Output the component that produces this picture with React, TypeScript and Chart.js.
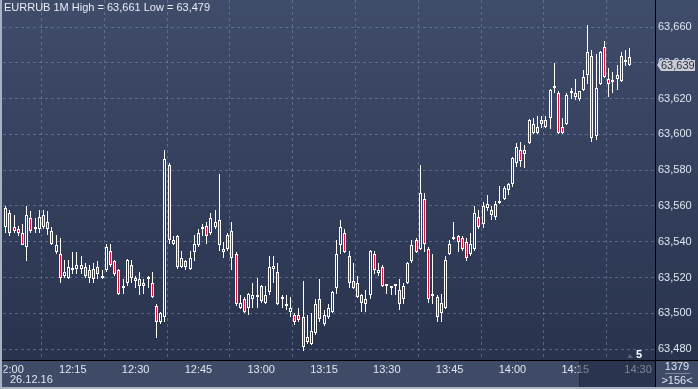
import React, { useEffect, useRef } from 'react';
import { Chart, registerables } from 'chart.js';

Chart.register(...registerables);

// ---- data (EURRUB, 1-minute candles, minutes after 12:00) ----
const startMinute = -2;
const opens = [
  63.545, 63.548, 63.556, 63.548, 63.547, 63.545, 63.537, 63.553, 63.548, 63.547,
  63.555, 63.551, 63.546, 63.534, 63.533, 63.521, 63.520, 63.524, 63.525, 63.525,
  63.526, 63.524, 63.519, 63.526, 63.520, 63.524, 63.535, 63.529, 63.524, 63.514,
  63.517, 63.527, 63.520, 63.519, 63.517, 63.519, 63.517, 63.504, 63.495, 63.498,
  63.583, 63.539, 63.543, 63.526, 63.529, 63.525, 63.534, 63.538, 63.547, 63.549,
  63.545, 63.548, 63.552, 63.534, 63.536, 63.546, 63.533, 63.503, 63.508, 63.503,
  63.508, 63.509, 63.515, 63.506, 63.512, 63.525, 63.523, 63.508, 63.505, 63.501,
  63.499, 63.499, 63.498, 63.484, 63.483, 63.489, 63.508, 63.494, 63.498, 63.501,
  63.514, 63.538, 63.545, 63.532, 63.518, 63.517, 63.510, 63.505, 63.510, 63.533,
  63.5225, 63.526, 63.5152, 63.5142, 63.5153, 63.513, 63.508, 63.517, 63.529, 63.541,
  63.536, 63.564, 63.536, 63.5098, 63.509, 63.500, 63.503, 63.533, 63.5418, 63.543,
  63.542, 63.540, 63.533, 63.536, 63.554, 63.550, 63.559, 63.558, 63.554, 63.5618,
  63.564, 63.569, 63.572, 63.584, 63.591, 63.589, 63.595, 63.601, 63.604, 63.608,
  63.604, 63.609, 63.626, 63.623, 63.604, 63.606, 63.624, 63.621, 63.620, 63.625,
  63.633, 63.644, 63.599, 63.628, 63.649, 63.631, 63.629, 63.633, 63.630, 63.6402,
  63.643,
];
const highs = [
  63.560, 63.560, 63.558, 63.555, 63.549, 63.550, 63.560, 63.557, 63.553, 63.558,
  63.558, 63.557, 63.548, 63.544, 63.542, 63.530, 63.530, 63.534, 63.534, 63.532,
  63.528, 63.527, 63.528, 63.529, 63.524, 63.539, 63.539, 63.530, 63.5245, 63.519,
  63.5305, 63.530, 63.521, 63.523, 63.519, 63.521, 63.523, 63.505, 63.501, 63.591,
  63.584, 63.543, 63.544, 63.535, 63.530, 63.535, 63.544, 63.547, 63.550, 63.551,
  63.556, 63.558, 63.578, 63.540, 63.545, 63.551, 63.534, 63.510, 63.509, 63.5115,
  63.517, 63.520, 63.516, 63.515, 63.532, 63.532, 63.528, 63.510, 63.510, 63.509,
  63.500, 63.503, 63.518, 63.499, 63.500, 63.508, 63.519, 63.502, 63.505, 63.5125,
  63.541, 63.552, 63.547, 63.535, 63.528, 63.521, 63.511, 63.513, 63.5355, 63.535,
  63.528, 63.527, 63.5158, 63.5155, 63.516, 63.519, 63.517, 63.5285, 63.541, 63.542,
  63.583, 63.567, 63.537, 63.533, 63.510, 63.511, 63.532, 63.541, 63.551, 63.544,
  63.543, 63.542, 63.545, 63.560, 63.558, 63.562, 63.566, 63.560, 63.5625, 63.571,
  63.571, 63.573, 63.5875, 63.595, 63.596, 63.594, 63.6085, 63.609, 63.610, 63.610,
  63.6103, 63.6255, 63.640, 63.624, 63.609, 63.623, 63.626, 63.631, 63.6245, 63.636,
  63.661, 63.647, 63.645, 63.6465, 63.652, 63.637, 63.635, 63.639, 63.646, 63.647,
  63.648,
];
const lows = [
  63.544, 63.545, 63.543, 63.545, 63.543, 63.538, 63.529, 63.545, 63.545, 63.545,
  63.547, 63.544, 63.538, 63.533, 63.517, 63.520, 63.519, 63.522, 63.522, 63.522,
  63.520, 63.517, 63.517, 63.519, 63.519, 63.523, 63.526, 63.521, 63.510, 63.511,
  63.515, 63.517, 63.514, 63.510, 63.511, 63.514, 63.5085, 63.486, 63.494, 63.495,
  63.539, 63.538, 63.525, 63.5255, 63.524, 63.524, 63.529, 63.537, 63.543, 63.539,
  63.544, 63.547, 63.535, 63.531, 63.535, 63.524, 63.504, 63.5025, 63.500, 63.499,
  63.503, 63.503, 63.506, 63.5055, 63.510, 63.517, 63.5045, 63.503, 63.502, 63.498,
  63.4935, 63.495, 63.479, 63.483, 63.4825, 63.488, 63.495, 63.493, 63.497, 63.5005,
  63.511, 63.533, 63.5338, 63.514, 63.5135, 63.5085, 63.501, 63.501, 63.508, 63.522,
  63.521, 63.5145, 63.511, 63.510, 63.5105, 63.502, 63.505, 63.5165, 63.528, 63.5335,
  63.5355, 63.534, 63.506, 63.505, 63.495, 63.495, 63.5025, 63.5325, 63.5412, 63.534,
  63.535, 63.529, 63.532, 63.535, 63.547, 63.5475, 63.557, 63.552, 63.552, 63.5612,
  63.5635, 63.566, 63.5705, 63.582, 63.582, 63.581, 63.5945, 63.600, 63.600, 63.6035,
  63.6035, 63.603, 63.623, 63.6005, 63.6003, 63.6055, 63.620, 63.619, 63.6188, 63.6245,
  63.628, 63.596, 63.597, 63.6275, 63.6315, 63.621, 63.623, 63.625, 63.6295, 63.638,
  63.6388,
];
const closes = [
  63.559, 63.559, 63.545, 63.546, 63.545, 63.538, 63.555, 63.546, 63.547, 63.554,
  63.548, 63.547, 63.539, 63.538, 63.520, 63.523, 63.526, 63.525, 63.527, 63.527,
  63.521, 63.520, 63.525, 63.522, 63.5205, 63.537, 63.527, 63.522, 63.511, 63.5145,
  63.530, 63.520, 63.518, 63.515, 63.5155, 63.5195, 63.5092, 63.495, 63.500, 63.586,
  63.541, 63.541, 63.526, 63.531, 63.526, 63.531, 63.539, 63.545, 63.548, 63.543,
  63.553, 63.551, 63.538, 63.536, 63.544, 63.531, 63.505, 63.506, 63.501, 63.511,
  63.510, 63.5093, 63.507, 63.510, 63.526, 63.5262, 63.505, 63.5083, 63.504, 63.503,
  63.495, 63.496, 63.481, 63.487, 63.490, 63.505, 63.497, 63.499, 63.503, 63.512,
  63.533, 63.548, 63.5343, 63.517, 63.514, 63.509, 63.506, 63.508, 63.535, 63.524,
  63.524, 63.515, 63.5156, 63.5146, 63.5157, 63.505, 63.515, 63.528, 63.538, 63.534,
  63.567, 63.539, 63.508, 63.5102, 63.498, 63.506, 63.530, 63.539, 63.5422, 63.540,
  63.536, 63.531, 63.539, 63.556, 63.548, 63.560, 63.561, 63.555, 63.561, 63.5622,
  63.570, 63.572, 63.587, 63.593, 63.585, 63.591, 63.608, 63.606, 63.601, 63.606,
  63.608, 63.625, 63.627, 63.601, 63.601, 63.622, 63.623, 63.623, 63.624, 63.632,
  63.646, 63.598, 63.626, 63.646, 63.632, 63.628, 63.630, 63.631, 63.644, 63.6406,
  63.639,
];

const xTickMinutes = [0, 15, 30, 45, 60, 75, 90, 105, 120, 135, 150];
const xTickLabels = ['12:00', '12:15', '12:30', '12:45', '13:00', '13:15', '13:30', '13:45', '14:00', '14:15', '14:30'];
const yTickValues = [63.48, 63.5, 63.52, 63.54, 63.56, 63.58, 63.6, 63.62, 63.64, 63.66];
const xRange = [-1.67, 154.05];
const yRange = [63.4739, 63.6751];

const titleText = 'EURRUB 1M High = 63,661 Low = 63,479';
const dateText = '26.12.16';
const markerText = '5';
const counterTop = '1379';
const counterBottom = '>156<';

const FONT = '"Liberation Sans Narrow", "Arial Narrow", "Liberation Sans", Arial, sans-serif';
const LABEL = '#dfe6f2';
const UP_FILL = 'rgba(0,0,0,0)';
const DOWN_FILL = '#dc143c';
const CANDLE_LINE = '#ffffff';

const fmtPrice = (v: number) => v.toFixed(3).replace('.', ',');

// snap bar elements to whole pixels so candles render crisp
const pixelSnap = {
  id: 'pixelSnap',
  beforeDatasetsDraw(chart: any) {
    chart.getSortedVisibleDatasetMetas().forEach((meta: any) => {
      const isBody = meta.index === 0;
      meta.data.forEach((el: any) => {
        const len = Math.abs(el.y - el.base);
        el.x = Math.floor(el.x) + 0.5;
        let top = Math.round(Math.min(el.y, el.base));
        let bottom = Math.round(Math.max(el.y, el.base));
        if (isBody && bottom - top < 2) bottom = top + 2;
        if (!isBody && len > 0.3 && bottom - top < 1) bottom = top + 1;
        el.y = top;
        el.base = bottom;
      });
    });
  },
};

const decorations = {
  id: 'decorations',
  beforeDraw(chart: any) {
    const { ctx, width, height } = chart;
    ctx.save();
    const g = ctx.createLinearGradient(0, 0, 0, 360);
    g.addColorStop(0, '#3f4c6a');
    g.addColorStop(1, '#29334e');
    ctx.fillStyle = g;
    ctx.fillRect(0, 0, width, height);
    ctx.fillStyle = '#3e4a66';
    ctx.fillRect(0, 361, width, height - 361);
    ctx.restore();
  },
  afterDraw(chart: any) {
    const { ctx, width, height, scales } = chart;
    const area = chart.chartArea;
    ctx.save();
    // scrolled-region overlay on time axis
    ctx.fillStyle = 'rgba(24,29,54,0.5)';
    ctx.fillRect(580, area.bottom + 1, area.right - 580, height - area.bottom - 1);
    ctx.fillStyle = 'rgba(20,24,40,0.6)';
    ctx.fillRect(579, area.bottom + 1, 1, height - area.bottom - 1);
    // separators
    ctx.fillStyle = '#000000';
    ctx.fillRect(Math.round(area.right), 0, 1, height);
    ctx.fillRect(0, Math.round(area.bottom), width, 1);
    // title
    ctx.font = `11px ${FONT}`;
    ctx.textBaseline = 'middle';
    ctx.textAlign = 'left';
    ctx.fillStyle = '#e8ecf4';
    ctx.fillText(titleText, 4, 8);
    // date under first time label
    ctx.fillStyle = LABEL;
    ctx.fillText(dateText, 10, 380);
    // last price tag
    const last = closes[closes.length - 1];
    const py = Math.round(scales.y.getPixelForValue(last));
    const x0 = Math.round(area.right) + 2;
    ctx.fillStyle = '#c9ccd3';
    ctx.beginPath();
    ctx.moveTo(x0, py);
    ctx.lineTo(x0 + 4, py - 5);
    ctx.lineTo(695, py - 5);
    ctx.lineTo(695, py + 6);
    ctx.lineTo(x0 + 4, py + 6);
    ctx.closePath();
    ctx.fill();
    ctx.fillStyle = '#2a3144';
    ctx.fillText(fmtPrice(last), x0 + 4, py + 0.5);
    // small marker near bottom right of plot
    ctx.fillStyle = '#5b6377';
    ctx.beginPath();
    ctx.moveTo(627, 358);
    ctx.lineTo(630, 354);
    ctx.lineTo(633, 358);
    ctx.closePath();
    ctx.fill();
    ctx.fillStyle = '#ffffff';
    ctx.font = `bold 11px ${FONT}`;
    ctx.fillText(markerText, 636, 355);
    // counters box
    ctx.font = `11px ${FONT}`;
    ctx.textAlign = 'center';
    ctx.fillStyle = LABEL;
    ctx.fillText(counterTop, 677, 367);
    ctx.fillText(counterBottom, 677, 381);
    ctx.fillStyle = '#7d869a';
    ctx.fillRect(665, 373, 25, 1);
    // window frame
    ctx.fillStyle = '#3e4a66';
    ctx.fillRect(2, area.bottom + 1, 1.5, height - area.bottom - 1);
    ctx.fillStyle = '#aab2c2';
    ctx.fillRect(0, 0, 2, height);
    ctx.fillRect(0, height - 2, width, 2);
    ctx.restore();
  },
};

export default function App() {
  const ref = useRef<HTMLCanvasElement | null>(null);

  useEffect(() => {
    document.body.style.margin = '0';
    const canvas = ref.current;
    if (!canvas) return;
    const minutes = opens.map((_, i) => startMinute + i);
    const bodies = minutes.map((m, i) => ({ x: m, y: [opens[i], closes[i]] }));
    const upper = minutes.map((m, i) => ({ x: m, y: [Math.max(opens[i], closes[i]), highs[i]] }));
    const lower = minutes.map((m, i) => ({ x: m, y: [lows[i], Math.min(opens[i], closes[i])] }));
    const fills = minutes.map((_, i) => (closes[i] >= opens[i] ? UP_FILL : DOWN_FILL));

    const gridColor = 'rgba(120,138,170,0.55)';

    const chart = new Chart(canvas, {
      type: 'bar',
      data: {
        datasets: [
          {
            label: 'body',
            data: bodies as any,
            backgroundColor: fills,
            borderColor: CANDLE_LINE,
            borderWidth: 1,
            borderSkipped: false,
            barThickness: 3,
            minBarLength: 2,
            grouped: false,
            inflateAmount: 0,
          } as any,
          {
            label: 'upper',
            data: upper as any,
            backgroundColor: CANDLE_LINE,
            borderWidth: 0,
            barThickness: 1,
            grouped: false,
            inflateAmount: 0,
          } as any,
          {
            label: 'lower',
            data: lower as any,
            backgroundColor: CANDLE_LINE,
            borderWidth: 0,
            barThickness: 1,
            grouped: false,
            inflateAmount: 0,
          } as any,
        ],
      },
      options: {
        responsive: false,
        animation: false,
        devicePixelRatio: 1,
        layout: { padding: { left: 3, top: 0, right: 0, bottom: 0 } },
        plugins: { legend: { display: false }, tooltip: { enabled: false } },
        scales: {
          x: {
            type: 'linear',
            min: xRange[0],
            max: xRange[1],
            offset: false,
            grid: { color: gridColor, lineWidth: 1, drawTicks: false },
            border: { display: false, dash: [3, 3] },
            afterBuildTicks: (scale: any) => {
              scale.ticks = xTickMinutes.map((v) => ({ value: v }));
            },
            afterFit: (scale: any) => {
              scale.height = 29;
              scale.paddingLeft = 0;
              scale.paddingRight = 0;
            },
            ticks: {
              autoSkip: false,
              maxRotation: 0,
              minRotation: 0,
              padding: 3,
              color: LABEL,
              font: { family: FONT, size: 11 },
              callback: (_v: any, i: number) => xTickLabels[i],
            },
          } as any,
          y: {
            type: 'linear',
            position: 'right',
            min: yRange[0],
            max: yRange[1],
            grid: { color: gridColor, lineWidth: 1, drawTicks: false },
            border: { display: false, dash: [3, 3] },
            afterBuildTicks: (scale: any) => {
              scale.ticks = yTickValues.map((v) => ({ value: v }));
            },
            afterFit: (scale: any) => {
              scale.width = 43;
              scale.paddingTop = 0;
              scale.paddingBottom = 0;
            },
            ticks: {
              autoSkip: false,
              padding: 3,
              color: LABEL,
              font: { family: FONT, size: 11 },
              callback: (v: any) => fmtPrice(Number(v)),
            },
          } as any,
        },
      },
      plugins: [pixelSnap, decorations],
    });
    return () => chart.destroy();
  }, []);

  return (
    <div style={{ width: 698, height: 389 }}>
      <canvas ref={ref} width={698} height={389} style={{ display: 'block' }} />
    </div>
  );
}
